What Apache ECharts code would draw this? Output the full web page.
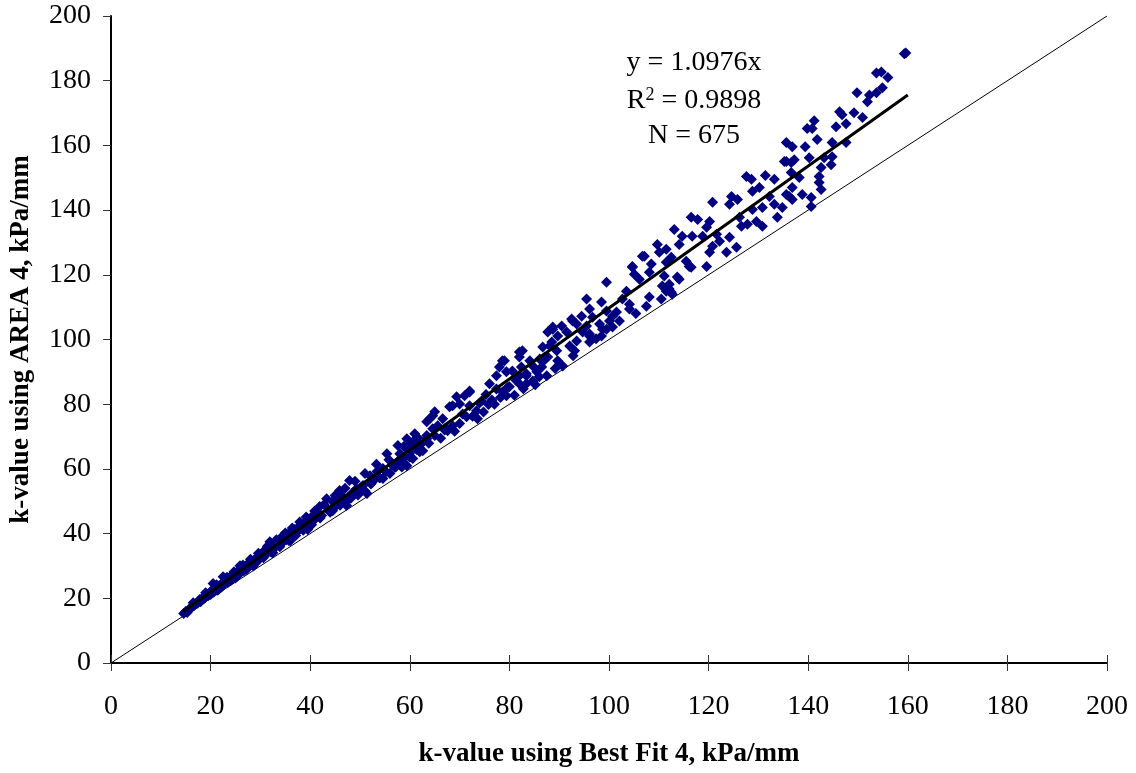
<!DOCTYPE html>
<html>
<head>
<meta charset="utf-8">
<script src="https://cdn.jsdelivr.net/npm/echarts@6/dist/echarts.min.js"></script>
<style>
html,body{margin:0;padding:0;background:#fff;}
#chart{width:1136px;height:773px;}
</style>
</head>
<body>
<div id="chart"></div>
<script>
const xTicks = [0,20,40,60,80,100,120,140,160,180,200];
const yTicks = [0,20,40,60,80,100,120,140,160,180,200];
const xTitle = 'k-value using Best Fit 4, kPa/mm';
const yTitle = 'k-value using AREA 4, kPa/mm';
const eqLine = 'y = 1.0976x';
const r2Value = '0.9898';
const nLine = 'N = 675';
const oneToOne = [[0,0],[200,200]];
const trendLine = [[14.5,15.9],[160,175.6]];
const points = [
[14.6,15.3],[15.0,15.9],[15.3,15.6],[15.6,16.5],[16.0,16.9],[16.3,17.4],[16.7,17.8],[17.0,18.2],[17.4,18.5],[17.8,19.6],
[18.1,19.4],[18.5,20.3],[18.8,20.0],[19.2,21.1],[19.5,20.8],[19.9,21.8],[20.2,22.4],[20.5,24.6],[20.6,21.9],[21.0,23.1],
[21.3,22.5],[21.7,23.9],[22.0,23.4],[22.4,24.8],[22.5,26.7],[22.8,24.6],[23.1,25.7],[23.5,25.0],[23.8,26.4],[24.2,26.0],
[24.5,27.2],[24.9,26.8],[25.2,27.9],[25.6,28.6],[25.9,30.1],[26.0,27.9],[26.3,29.2],[26.7,28.5],[27.0,29.9],[27.4,30.5],
[27.7,29.8],[28.1,31.2],[28.4,30.6],[28.8,32.0],[29.1,31.4],[29.5,32.8],[29.8,32.1],[30.2,33.6],[30.5,34.3],[30.9,33.2],
[31.2,35.0],[31.6,34.3],[31.9,37.5],[32.0,35.6],[32.3,35.0],[32.7,36.3],[33.0,35.8],[33.4,37.1],[33.7,36.4],[34.1,38.0],
[34.5,39.3],[34.4,37.2],[34.8,38.8],[35.2,38.1],[35.5,39.7],[35.9,39.0],[36.2,40.5],[36.6,39.8],[36.9,41.3],[37.3,40.6],
[37.6,42.0],[38.0,41.5],[38.3,42.9],[38.7,42.2],[39.0,43.4],[39.4,42.6],[39.8,44.3],[40.1,43.8],[40.5,45.5],[40.8,44.2],
[18.0,18.9],[21.5,22.6],[25.0,26.3],[28.6,30.0],[32.5,34.1],[36.0,37.8],[39.5,41.3],
[16.5,18.6],[17.6,19.0],[19.0,21.7],[20.0,21.2],[21.2,24.2],[22.2,23.5],[23.3,26.5],[24.0,25.4],[24.7,28.2],[25.5,27.1],
[26.5,30.3],[27.2,28.9],[28.0,32.1],[29.0,30.8],[29.6,33.9],[30.6,32.5],[31.4,36.1],[32.2,34.2],[33.2,38.1],[33.9,35.9],
[35.0,40.2],[35.7,37.9],[36.4,41.7],[37.1,39.4],[37.9,43.6],[38.6,41.0],[39.2,45.1],[40.3,42.7],[40.9,47.0],[42.0,44.8],
[42.8,49.0],[44.0,46.6],[45.0,51.8],[46.0,48.8],[47.0,54.0],[48.2,51.0],[49.0,56.2],[50.0,53.0],[51.0,58.6],[52.2,55.3],
[53.3,61.4],[54.0,57.3],[55.8,62.8],[57.2,60.7],[58.8,66.9],[60.0,63.6],[61.6,69.6],[62.2,67.6],
[41.2,46.8],[41.9,48.4],[42.3,45.6],[43.3,50.8],[43.7,47.2],[44.5,49.9],[44.5,47.1],[45.2,48.6],[45.9,53.3],[46.1,50.3],
[46.5,51.5],[46.9,49.7],[47.3,48.7],[47.9,56.4],[47.9,50.8],[48.5,52.6],[49.3,53.9],[49.6,51.9],[50.2,54.3],[50.6,54.9],
[51.0,53.2],[51.4,52.4],[52.0,57.9],[52.4,55.8],[53.0,56.9],[53.4,59.2],[53.9,57.3],[54.6,60.1],[54.6,57.0],[55.4,64.7],
[55.2,59.1],[56.0,58.6],[56.5,61.2],[57.0,60.4],[57.6,67.2],[57.7,62.5],[58.0,64.7],[58.4,60.6],[59.0,63.8],[59.4,69.3],
[59.4,61.0],[60.0,67.2],[60.3,65.4],[60.6,63.2],[61.0,70.9],[61.4,66.0],[62.0,65.6],[62.6,65.6],[63.4,69.3],[63.4,74.6],
[63.8,67.9],[64.0,75.5],[64.6,72.4],[65.0,70.3],[65.0,77.7],[65.6,73.3],[66.2,69.5],[66.6,75.5],[67.0,72.0],[67.6,71.8],
[68.0,79.2],[68.6,73.3],[69.0,71.6],[69.4,82.3],[70.0,80.1],[70.0,74.0],[70.6,77.0],[71.0,82.6],[71.4,76.1],[72.0,83.8],
[72.0,79.5],[72.6,76.3],[73.4,78.0],[73.6,75.5],[74.0,80.4],[74.4,81.0],[74.8,77.6],[75.3,83.0],[75.8,79.9],[76.0,86.3],
[76.5,81.3],[77.0,80.0],[77.4,88.8],[77.4,84.7],[78.0,91.5],[78.2,82.1],[78.6,83.8],[79.0,93.4],[79.4,90.0],[79.6,85.2],
[80.0,85.4],[80.6,90.3],[81.0,82.8],[81.3,87.4],[82.0,96.1],[82.0,94.6],[82.0,88.8],[82.0,86.3],[82.4,91.5],[82.8,84.8],
[83.4,89.4],[83.4,86.3],[84.1,93.4],[84.7,91.8],[84.7,87.2],[85.2,86.0],[85.5,90.0],[86.0,88.5],[86.5,91.5],[86.7,97.7],
[86.7,93.1],[87.1,94.6],[87.5,88.8],[87.7,102.3],[87.7,94.6],[88.1,98.0],[88.5,99.2],[88.7,103.9],[89.2,91.0],[89.5,96.5],
[89.7,93.4],[89.7,101.1],[90.5,104.2],[90.7,91.8],[91.5,102.3],[92.1,98.0],[92.5,106.3],[92.8,95.0],[93.1,96.5],[93.5,104.8],
[93.5,99.5],[94.5,107.2],[94.7,102.3],[95.5,112.5],[95.5,104.2],[96.1,109.4],[96.1,101.7],[96.1,99.2],[96.7,106.9],[97.4,100.2],
[98.5,111.6],[98.5,101.1],[98.7,103.2],[99.5,117.7],[99.5,108.8],[100.1,105.7],[100.7,103.9],[101.5,108.5],[102.1,105.7],[102.7,112.5],
[103.5,114.9],[104.1,110.9],[104.7,122.3],[105.1,120.2],[105.4,108.0],[106.1,118.6],[106.7,125.7],[107.5,110.3],[108.1,120.8],[108.1,113.1],
[108.5,123.3],[109.7,129.4],[110.1,127.0],[110.5,112.5],[110.7,116.5],[111.1,119.6],[111.5,123.9],[111.5,127.9],[111.5,114.9],[112.1,117.1],
[112.5,125.4],[112.5,114.6],[112.7,114.0],[113.1,134.0],[113.7,119.3],[114.1,129.4],[114.7,131.9],[115.5,124.2],[116.5,137.8],[116.5,122.3],
[116.7,131.9],[117.8,137.1],[118.8,131.9],[119.6,134.7],[119.6,122.6],[120.2,136.5],[120.2,127.0],[120.8,142.4],[120.8,128.8],[121.6,132.5],
[122.2,130.4],[123.6,127.0],[124.2,131.6],[124.2,141.8],[124.6,144.2],[125.6,128.5],[125.8,143.3],[126.2,137.8],[126.6,135.0],[127.6,150.4],
[127.8,135.6],[128.6,149.5],[128.8,145.8],[128.8,140.2],[129.6,136.5],[130.2,147.0],[130.8,140.8],[130.8,135.0],[131.4,150.7],[132.2,144.2],
[133.2,149.5],[133.2,141.8],[133.8,137.8],[134.8,140.8],[135.2,155.0],[135.6,160.9],[135.6,155.0],[135.6,144.8],[136.2,144.2],[136.6,154.7],
[136.6,151.6],[136.8,159.6],[136.8,147.0],[136.8,143.3],[137.2,155.6],[138.2,150.1],[138.8,144.8],[139.4,159.6],[139.8,165.2],[140.2,156.2],
[140.6,143.9],[140.6,141.1],[140.8,165.2],[141.2,167.6],[141.8,161.8],[142.2,150.4],[142.2,148.5],[142.6,153.2],[142.6,146.4],[143.2,156.2],
[144.6,154.0],[144.8,156.5],[144.8,160.9],[145.6,165.8],[146.3,170.4],[146.8,169.5],[147.6,166.7],[147.6,160.9],[149.2,170.1],[149.8,176.3],
[150.9,168.6],[151.9,173.5],[152.3,175.6],[153.7,176.3],[153.7,182.4],[154.7,182.7],[154.9,177.8],[156.0,181.0],[159.3,188.3],[159.6,188.6],
[107.1,125.7],[104.7,122.6],[114.1,118.6],[116.1,122.6],[112.1,115.6],[88.7,103.2],[92.7,105.7],[98.1,104.8],[100.7,107.2],[104.1,109.4],
[96.1,101.1],[99.5,103.2],[82.6,96.5],[78.6,93.4],[86.1,94.0],[90.1,92.4],[83.4,88.8],[79.4,82.6],[72.0,84.1],[68.6,79.5],
[64.6,76.4],[67.4,72.4],[63.4,70.3],[60.6,68.4],[59.4,66.3],[62.0,65.3],[58.6,62.3]
];

const FONT = '"Liberation Serif", "Times New Roman", serif';
const chart = echarts.init(document.getElementById('chart'), null, {renderer:'canvas'});
const xmin = xTicks[0], xmax = xTicks[xTicks.length-1];
const ymin = yTicks[0], ymax = yTicks[yTicks.length-1];
const step = xTicks[1]-xTicks[0];
chart.setOption({
  animation:false,
  backgroundColor:'#fff',
  grid:{left:110,right:29,top:16,bottom:108,containLabel:false},
  xAxis:[{
    type:'value',min:xmin,max:xmax,interval:step,
    name:xTitle,nameLocation:'middle',nameGap:78,
    nameTextStyle:{fontFamily:FONT,fontWeight:'bold',fontSize:27,color:'#000'},
    axisLine:{show:true,lineStyle:{color:'#000',width:2}},
    axisTick:{show:true,inside:false,length:8,lineStyle:{color:'#333',width:1}},
    axisLabel:{fontFamily:FONT,fontSize:28,color:'#000',margin:30},
    splitLine:{show:false}
  },{
    type:'value',min:xmin,max:xmax,interval:step,position:'bottom',
    axisLine:{show:false},
    axisTick:{show:true,inside:true,length:8,lineStyle:{color:'#333',width:1}},
    axisLabel:{show:false},splitLine:{show:false}
  }],
  yAxis:{
    type:'value',min:ymin,max:ymax,interval:yTicks[1]-yTicks[0],
    name:yTitle,nameLocation:'middle',nameGap:76,nameRotate:90,
    nameTextStyle:{fontFamily:FONT,fontWeight:'bold',fontSize:27,color:'#000'},
    axisLine:{show:true,lineStyle:{color:'#000',width:2}},
    axisTick:{show:true,inside:false,length:8,lineStyle:{color:'#333',width:1}},
    axisLabel:{fontFamily:FONT,fontSize:28,color:'#000',margin:20},
    splitLine:{show:false}
  },
  series:[
    {type:'line',data:oneToOne,symbol:'none',lineStyle:{color:'#000',width:1},z:1,silent:true},
    {type:'scatter',data:points,symbol:'diamond',symbolSize:11,itemStyle:{color:'#000080',opacity:1},z:2},
    {type:'line',data:trendLine,symbol:'none',lineStyle:{color:'#000',width:3},z:3,silent:true}
  ],
  graphic:[
    {type:'text',x:694,y:63,style:{text:eqLine,font:'28px '+FONT,fill:'#000',textAlign:'center',textVerticalAlign:'middle'}},
    {type:'text',x:694,y:101,style:{
      rich:{n:{fontFamily:'Liberation Serif',fontSize:28,fill:'#000'},s:{fontFamily:'Liberation Serif',fontSize:18,verticalAlign:'top',padding:[0,0,12,0]}},
      text:'{n|R}{s|2}{n| = '+r2Value+'}',textAlign:'center',textVerticalAlign:'middle',fill:'#000'}},
    {type:'text',x:694,y:136,style:{text:nLine,font:'28px '+FONT,fill:'#000',textAlign:'center',textVerticalAlign:'middle'}}
  ]
});
</script>
</body>
</html>
